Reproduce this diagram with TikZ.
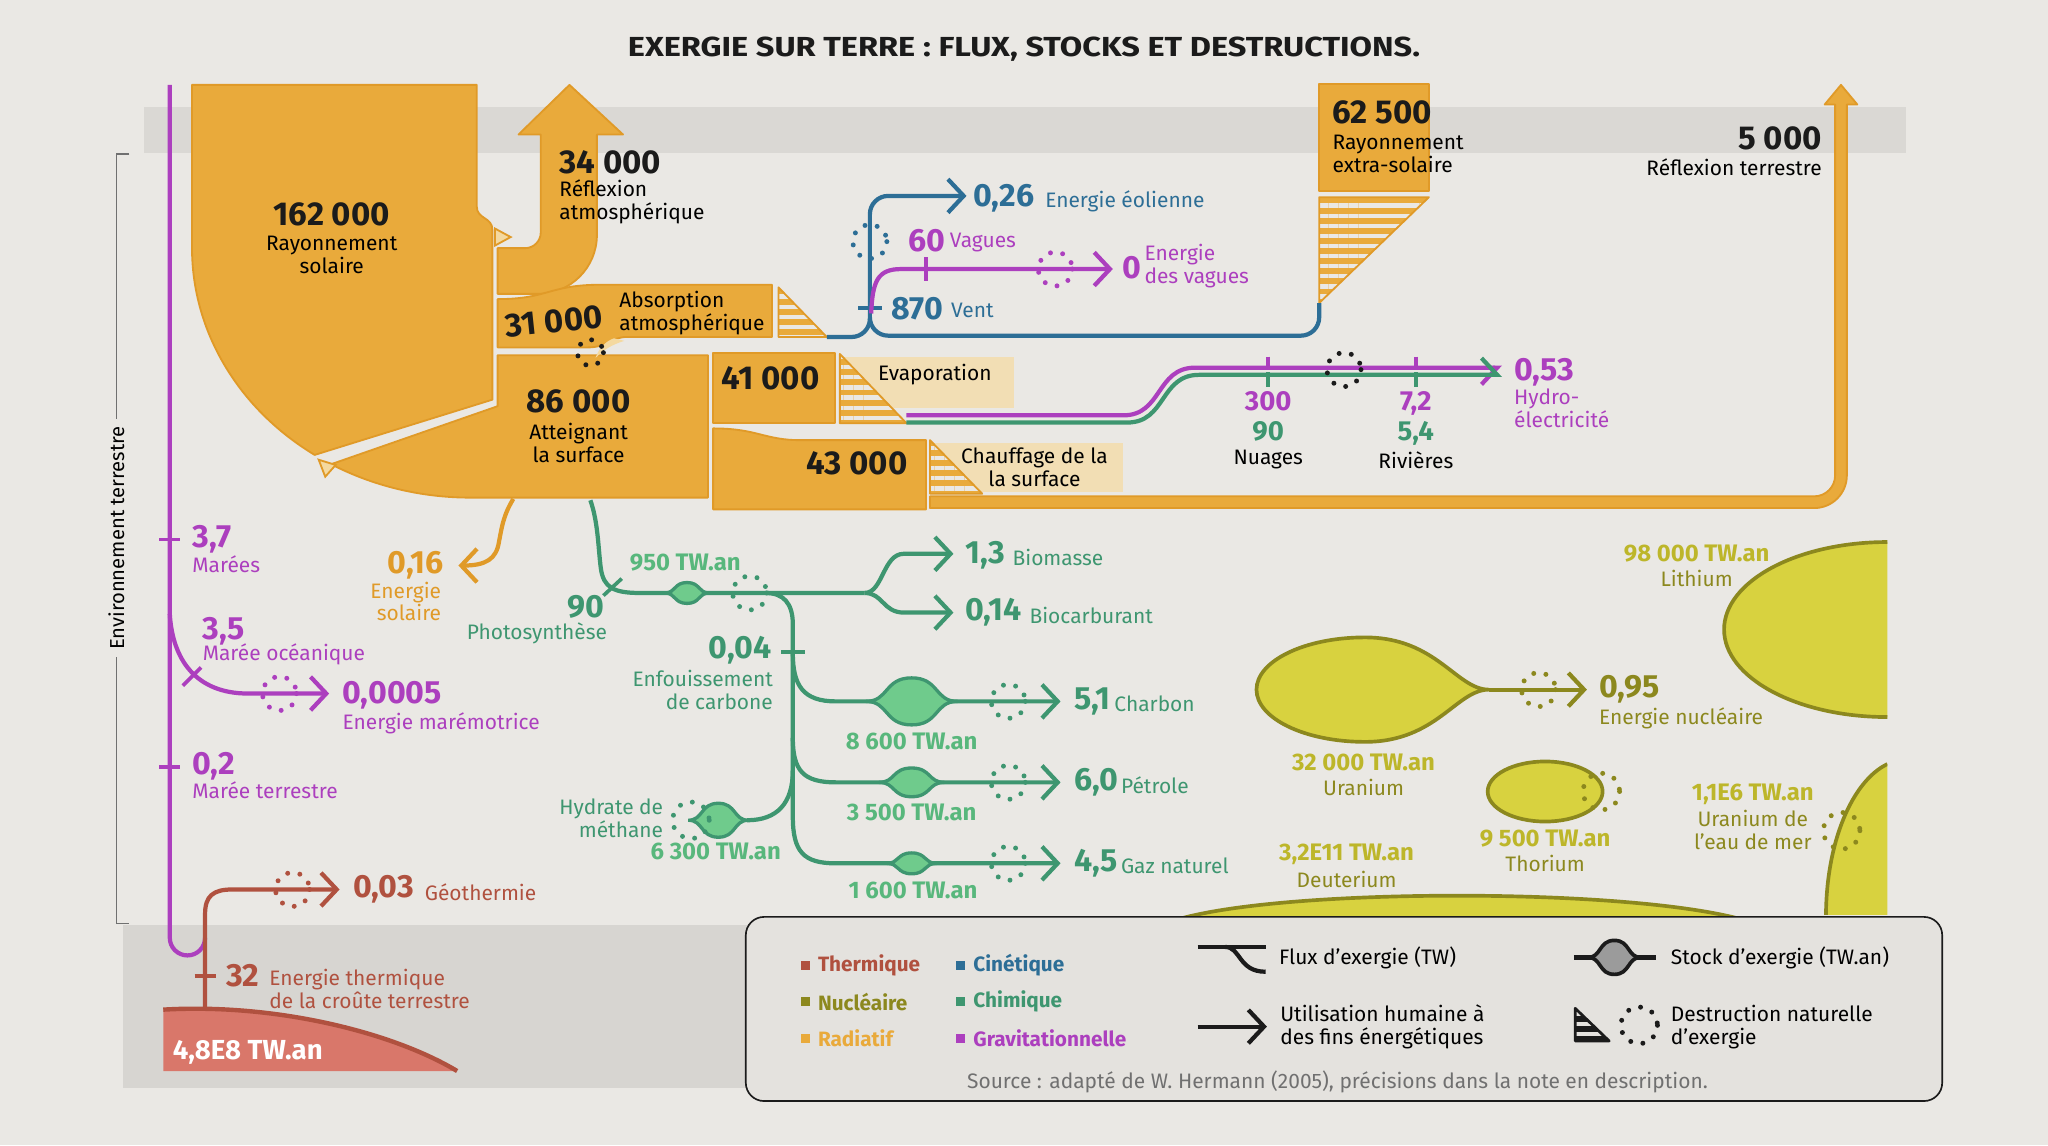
\documentclass[tikz,border=0pt]{standalone}
\usepackage{fontspec}
\setmainfont{Fira Sans}
\usepackage{tikz}
\usetikzlibrary{arrows.meta, patterns.meta}

\definecolor{fond}{HTML}{EAE8E4}
\definecolor{bande}{HTML}{DAD8D4}
\definecolor{bandebas}{HTML}{D7D5D1}
\definecolor{legfond}{HTML}{E4E2DE}
\definecolor{radiatif}{HTML}{E9AA3B}
\definecolor{radbord}{HTML}{E09A28}
\definecolor{radclair}{HTML}{F4D9A0}
\definecolor{beige}{HTML}{F2DEB4}
\definecolor{cinetique}{HTML}{2D6E96}
\definecolor{gravit}{HTML}{AC3FBE}
\definecolor{chimique}{HTML}{3E9670}
\definecolor{chimclair}{HTML}{6FCB8C}
\definecolor{chimstock}{HTML}{58B77C}
\definecolor{nucleaire}{HTML}{8C881E}
\definecolor{nucclair}{HTML}{D8D23F}
\definecolor{nucstock}{HTML}{BDB62A}
\definecolor{thermique}{HTML}{B0513F}
\definecolor{thermclair}{HTML}{D9776A}
\definecolor{encre}{HTML}{1B1B1B}
\definecolor{gris}{HTML}{707070}

% lentille de stock : style, cx, cy, demi-largeur, demi-hauteur
\newcommand{\lentille}[5]{\filldraw[#1] (#2-#4,#3) .. controls (#2-0.5*#4,#3) and (#2-0.6*#4,#3-#5) .. (#2,#3-#5)
  .. controls (#2+0.6*#4,#3-#5) and (#2+0.5*#4,#3) .. (#2+#4,#3)
  .. controls (#2+0.5*#4,#3) and (#2+0.6*#4,#3+#5) .. (#2,#3+#5)
  .. controls (#2-0.6*#4,#3+#5) and (#2-0.5*#4,#3) .. cycle;}

\tikzset{
  ray/.style={fill=radiatif, draw=radbord, line width=1pt, line join=round},
  hachure/.style={preaction={fill=radiatif}, pattern={Lines[angle=0, distance=5.5pt, line width=2.3pt]}, pattern color=fond, draw=radbord, line width=1pt, line join=round},
  flux/.style={line width=2.3pt},
  fleche/.style={-{Straight Barb[length=3mm, width=6.4mm]}},
  perte/.style={line width=2.7pt, line cap=round, dash pattern=on 0pt off 6.8pt},
  coche/.style={line width=2pt},
  titre/.style={font=\fontsize{15}{16}\selectfont\bfseries, text=encre, inner sep=0pt},
  grand/.style={font=\fontsize{18}{19}\selectfont\bfseries, text=encre, inner sep=0pt},
  valeur/.style={font=\fontsize{17.5}{18}\selectfont\bfseries, inner sep=0pt},
  pile/.style={font=\fontsize{15}{16}\selectfont\bfseries, inner sep=0pt, text height=10.5pt, text depth=2pt},
  etiq/.style={font=\fontsize{11.4}{12.5}\selectfont, inner sep=0pt, align=left},
  stockval/.style={font=\fontsize{13}{14}\selectfont\bfseries, inner sep=0pt},
  legende/.style={font=\fontsize{11.3}{12}\selectfont\bfseries, inner sep=0pt, anchor=west},
}

\begin{document}
\begin{tikzpicture}[x=0.025cm, y=-0.025cm]
  % fond et bandes
  \useasboundingbox (0,0) rectangle (1568,876.7);
  \fill[fond] (0,0) rectangle (1568,876.7);
  \fill[bande] (110,82) rectangle (1459,117);
  \fill[bandebas] (94,708) rectangle (1459,833);

  % titre
  \node[titre, xscale=1.18] (titre) at (784,38) {EXERGIE SUR TERRE : FLUX, STOCKS ET DESTRUCTIONS.};

  % crochet environnement terrestre
  \draw[gris, line width=0.8pt] (99,118) -- (89,118) -- (89,707) -- (99,707);
  \node[etiq, font=\fontsize{11}{12}\selectfont, rotate=90, fill=fond, inner sep=4pt] (envt) at (89,412) {Environnement terrestre};

  % rayonnement solaire
  \draw[ray] (147,65) -- (365,65) -- (365,158) .. controls (365,168) and (377,166) .. (377,176) -- (377,306) -- (240.9,348.3) arc[start angle=124, end angle=180, x radius=213, y radius=191] -- cycle;
  % atteignant la surface
  \draw[ray] (381,272) -- (542,272) -- (542,381) -- (360,381) arc[start angle=90, end angle=120, x radius=213, y radius=191] -- (381,311) -- cycle;
  % reflexion atmospherique
  \draw[ray] (381,190) -- (402,190) arc[start angle=90, end angle=0, radius=12] -- (414,103) -- (397,103) -- (436,65) -- (477,103) -- (457,103) -- (457,180) arc[start angle=0, end angle=90, radius=45] -- (381,225) -- cycle;
  % absorption atmospherique
  \draw[ray] (381,229) .. controls (420,229) and (420,218) .. (460,218) -- (591,218) -- (591,258) -- (480,258) .. controls (468,258) and (465,266) .. (450,266) -- (381,266) -- cycle;
  \fill[radclair] (470,259) .. controls (462,262) and (458,268) .. (456,274) .. controls (462,268) and (468,264) .. (478,261) -- cycle;
  \draw[hachure] (596,220) -- (596,258) -- (633,258) -- cycle;
  % petits triangles de separation
  \filldraw[fill=radclair, draw=radbord, line width=1pt] (379,175) -- (379,188) -- (391,181.5) -- cycle;
  \filldraw[fill=radclair, draw=radbord, line width=1pt] (244,352) -- (257,356) -- (249,365) -- cycle;

  % evaporation
  \draw[ray] (546,270) rectangle (639,324);
  \fill[beige] (642,273) rectangle (776,312);
  \draw[hachure] (643,271) -- (643,324) -- (694,324) -- cycle;
  % chauffage de la surface
  \draw[ray] (546,328) .. controls (580,328) and (585,337) .. (613,337) -- (709,337) -- (709,390) -- (546,390) -- cycle;
  \fill[beige] (711,339) rectangle (860,377);
  \draw[hachure] (712,337) -- (712,378) -- (752,378) -- cycle;
  % reflexion terrestre
  \draw[ray] (712,380) -- (1389,380) arc[start angle=90, end angle=0, radius=16] -- (1405,80) -- (1397,80) -- (1409.5,65) -- (1422,80) -- (1414,80) -- (1414,364) arc[start angle=0, end angle=90, radius=25] -- (712,389) -- cycle;

  % rayonnement extra-solaire
  \draw[ray] (1010,64) rectangle (1094,146);
  \draw[hachure] (1010,151) -- (1094,151) -- (1010,232) -- cycle;

  % vent (cinetique)
  \draw[flux, cinetique, fleche] (1010,232) -- (1010,243) arc[start angle=0, end angle=90, radius=14] -- (680,257) arc[start angle=90, end angle=180, radius=14] -- (666,164) arc[start angle=180, end angle=270, radius=14] -- (740,150);
  \draw[flux, cinetique] (633,258) -- (652,258) arc[start angle=90, end angle=0, radius=14];
  \draw[coche, cinetique] (657,236) -- (675,236);
  \draw[perte, cinetique] (666,185) circle (13);

  % vagues
  \draw[flux, gravit, fleche] (667,240) .. controls (668,215) and (672,206) .. (690,206) -- (852,206);
  \draw[coche, gravit] (709,197) -- (709,215);
  \draw[perte, gravit] (808,206) circle (13);

  % cycle de l'eau
  \draw[flux, gravit, -{Straight Barb[length=3mm, width=6.4mm, right]}] (694,318) -- (860,318) .. controls (890,318) and (885,281.5) .. (915,281.5) -- (1150,281.5);
  \draw[flux, chimique, -{Straight Barb[length=3mm, width=6.4mm, left]}] (694,323.5) -- (863,323.5) .. controls (893,323.5) and (888,287) .. (918,287) -- (1150,287);
  \draw[coche, gravit] (971,273) -- (971,283) (1084,273) -- (1084,283);
  \draw[coche, chimique] (971,285) -- (971,296) (1084,285) -- (1084,296);
  \draw[perte, encre] (1029,283) circle (13);
  \draw[perte, encre] (452,270) circle (10);

  % maree (gravitationnel)
  \draw[flux, gravit] (130,65) -- (130,718) arc[start angle=180, end angle=0, radius=13.5];
  \draw[coche, gravit] (122,413) -- (138,413) (122,587) -- (138,587);
  \draw[flux, gravit, fleche] (130,470) .. controls (132,505) and (150,531) .. (190,531) -- (252,531);
  \draw[coche, gravit] (140,525) -- (154,511);
  \draw[perte, gravit] (214,531) circle (13);

  % croute terrestre (thermique)
  \fill[thermclair] (125,773) .. controls (210,768) and (300,790) .. (350,820) -- (125,820) -- cycle;
  \draw[thermique, line width=2.4pt] (125,773) .. controls (210,768) and (300,790) .. (350,820);
  \draw[flux, thermique, fleche] (157,773) -- (157,700) .. controls (157,686) and (163,681) .. (178,681) -- (260,681);
  \draw[coche, thermique] (149,747) -- (165,747);
  \draw[perte, thermique] (224,681) circle (13);

  % energie solaire directe
  \draw[flux, radbord, fleche] (393,382) .. controls (385,395) and (384,405) .. (382,415) .. controls (380,428) and (372,433) .. (351,433);

  % photosynthese (chimique)
  \draw[flux, chimique] (452,383) .. controls (458,400) and (458,420) .. (460,435) .. controls (462,450) and (470,454) .. (490,454) -- (662,454);
  \draw[coche, chimique] (462,456) -- (476,443);
  \draw[flux, chimique, fleche] (662,454) .. controls (676,454) and (676,424) .. (692,424) -- (730,424);
  \draw[flux, chimique, fleche] (662,454) .. controls (676,454) and (676,469) .. (692,469) -- (730,469);
  \lentille{fill=chimclair, draw=chimique, line width=1.8pt}{526}{454}{17}{8}
  \draw[perte, chimique] (574,454) circle (13);
  % enfouissement et fossiles
  \draw[flux, chimique, fleche] (586,454) .. controls (600,454) and (607,462) .. (607,478) -- (607,625) .. controls (607,652) and (615,661) .. (640,661) -- (812,661);
  \draw[flux, chimique, fleche] (607,500) .. controls (607,525) and (615,537) .. (640,537) -- (812,537);
  \draw[flux, chimique, fleche] (607,565) .. controls (607,590) and (615,599) .. (640,599) -- (812,599);
  \draw[flux, chimique] (607,590) .. controls (607,615) and (595,628) .. (572,628);
  \draw[coche, chimique] (598,499) -- (616,499);
  \lentille{fill=chimclair, draw=chimique, line width=1.8pt}{698}{537}{35}{18}
  \lentille{fill=chimclair, draw=chimique, line width=1.8pt}{698}{599}{25}{11}
  \lentille{fill=chimclair, draw=chimique, line width=1.8pt}{698}{661}{19}{8}
  \lentille{fill=chimclair, draw=chimique, line width=1.8pt}{550}{628}{23}{13}
  \draw[perte, chimique] (772,537) circle (13) (772,599) circle (13) (772,661) circle (13) (529,628) circle (14);

  % stocks nucleaires
  \begin{scope}
    \clip (1300,400) rectangle (1445,700);
    \filldraw[fill=nucclair, draw=nucleaire, line width=2pt] (1445,482) ellipse (125 and 67);
    \fill[nucclair] (1445,585) .. controls (1418,598) and (1398,645) .. (1398,702) -- (1445,702) -- cycle;
    \draw[nucleaire, line width=2pt] (1445,585) .. controls (1418,598) and (1398,645) .. (1398,702);
  \end{scope}
  \filldraw[fill=nucclair, draw=nucleaire, line width=2pt] (1140,528) .. controls (1115,528) and (1100,488) .. (1045,488) .. controls (999,488) and (962,506) .. (962,528) .. controls (962,550) and (999,568) .. (1045,568) .. controls (1100,568) and (1115,528) .. cycle;
  \draw[flux, nucleaire, fleche] (1140,528) -- (1215,528);
  \draw[perte, nucleaire] (1178,528) circle (13);
  \filldraw[fill=nucclair, draw=nucleaire, line width=2pt] (1183,606) ellipse (44 and 23);
  \draw[perte, nucleaire] (1226,606) circle (14);
  \draw[perte, nucleaire] (1410,636) circle (14);
  \fill[nucclair] (905,703) .. controls (990,680) and (1240,680) .. (1330,703) -- cycle;
  \draw[nucleaire, line width=2pt] (905,703) .. controls (990,680) and (1240,680) .. (1330,703);

  % legende
  \filldraw[fill=legfond, draw=encre, line width=0.9pt, rounded corners=3.5mm] (571,702) rectangle (1487,843);
  \fill[thermique] (613,735.5) rectangle (620,742.5);
  \fill[nucleaire] (613,763.5) rectangle (620,770.5);
  \fill[radiatif] (613,791.5) rectangle (620,798.5);
  \fill[cinetique] (732,735.5) rectangle (739,742.5);
  \fill[chimique] (732,763.5) rectangle (739,770.5);
  \fill[gravit] (732,791.5) rectangle (739,798.5);
  \node[legende, text=thermique] (lthe) at (626,739) {Thermique};
  \node[legende, text=nucleaire] (lnuc) at (626,767) {Nucléaire};
  \node[legende, text=radiatif] (lrad) at (626,795) {Radiatif};
  \node[legende, text=cinetique] (lcin) at (745,739) {Cinétique};
  \node[legende, text=chimique] (lchi) at (745,767) {Chimique};
  \node[legende, text=gravit] (lgra) at (745,795) {Gravitationnelle};
  \draw[flux, encre] (917,725) -- (969,725);
  \draw[flux, encre] (938,725) .. controls (950,725) and (948,744) .. (969,744);
  \draw[flux, encre, fleche] (917,786) -- (970,786);
  \draw[flux, encre] (1205,733) -- (1268,733);
  \lentille{fill=gris!70, draw=encre, line width=2pt}{1236}{733}{20}{13}
  \draw[preaction={fill=encre}, pattern={Lines[angle=0, distance=5.5pt, line width=2.2pt]}, pattern color=legfond, draw=encre, line width=1.5pt, line join=round] (1206,772) -- (1206,797) -- (1232,797) -- cycle;
  \draw[perte, encre] (1255,785) circle (14);
  \node[etiq, anchor=west] (lflux) at (979,733) {Flux d’exergie (TW)};
  \node[etiq, anchor=west] (lutil) at (980,786) {Utilisation humaine à\\des fins énergétiques};
  \node[etiq, anchor=west] (lstock) at (1279,733) {Stock d’exergie (TW.an)};
  \node[etiq, anchor=west] (ldest) at (1279,786) {Destruction naturelle\\d’exergie};
  \node[etiq, text=gris] (lsource) at (1024,828) {Source : adapté de W. Hermann (2005), précisions dans la note en description.};

  % textes radiatifs
  \node[grand] (n162) at (254,164) {162 000};
  \node[etiq, align=center] (l162) at (254,195) {Rayonnement\\solaire};
  \node[grand, anchor=west] (n34) at (428,124) {34 000};
  \node[etiq, anchor=west] (l34) at (428,154.5) {Réflexion\\atmosphérique};
  \node[grand, rotate=6] (n31) at (424,246) {31 000};
  \node[etiq, anchor=west] (l31) at (474,239.5) {Absorption\\atmosphérique};
  \node[grand] (n86) at (443,307) {86 000};
  \node[etiq, align=center] (l86) at (443,339.5) {Atteignant\\la surface};
  \node[grand] (n41) at (590,290) {41 000};
  \node[etiq, anchor=west] (levap) at (672,287) {Evaporation};
  \node[grand] (n43) at (656,355) {43 000};
  \node[etiq, align=center] (lchauf) at (792,357.5) {Chauffage de la\\la surface};
  \node[grand, anchor=west] (n625) at (1020,86) {62 500};
  \node[etiq, anchor=west] (l625) at (1020,117.5) {Rayonnement\\extra-solaire};
  \node[grand, anchor=east] (n5000) at (1395,106) {5 000};
  \node[etiq, anchor=east] (l5000) at (1395,128) {Réflexion terrestre};
  \node[valeur, text=radbord, anchor=east] (v016) at (340,433) {0,16};
  \node[etiq, text=radbord, align=right, anchor=east] (l016) at (338,460.5) {Energie\\solaire};

  % textes cinetiques et gravitationnels
  \node[valeur, text=cinetique, anchor=west] (v026) at (745,152) {0,26};
  \node[etiq, text=cinetique, anchor=west] (l026) at (800,154) {Energie éolienne};
  \node[valeur, text=cinetique, anchor=west] (v870) at (682,236) {870};
  \node[etiq, text=cinetique, anchor=west] (l870) at (728,238) {Vent};
  \node[valeur, text=gravit, anchor=west] (v60) at (695,184) {60};
  \node[etiq, text=gravit, anchor=west] (l60) at (727,186) {Vagues};
  \node[valeur, text=gravit, anchor=west] (v0) at (859,205) {0};
  \node[etiq, text=gravit, anchor=west] (l0) at (876,204) {Energie\\des vagues};
  \node[valeur, text=gravit, anchor=west] (v053) at (1159,285) {0,53};
  \node[etiq, text=gravit, anchor=west] (l053) at (1159,312.5) {Hydro-\\électricité};
  \node[pile, text=gravit] (v300) at (971,308) {300};
  \node[pile, text=chimique] (v90n) at (971,331) {90};
  \node[etiq] (lnuages) at (971,352) {Nuages};
  \node[pile, text=gravit] (v72) at (1084,308) {7,2};
  \node[pile, text=chimique] (v54) at (1084,331) {5,4};
  \node[etiq] (lriv) at (1084,352) {Rivières};
  \node[valeur, text=gravit, anchor=west] (v37) at (147,413) {3,7};
  \node[etiq, text=gravit, anchor=west] (l37) at (147,432) {Marées};
  \node[valeur, text=gravit, anchor=west] (v35) at (155,483) {3,5};
  \node[etiq, text=gravit, anchor=west] (l35) at (155,501) {Marée océanique};
  \node[valeur, text=gravit, anchor=west] (v0005) at (262,532) {0,0005};
  \node[etiq, text=gravit, anchor=west] (l0005) at (262,554) {Energie marémotrice};
  \node[valeur, text=gravit, anchor=west] (v02) at (147,587) {0,2};
  \node[etiq, text=gravit, anchor=west] (l02) at (147,605) {Marée terrestre};

  % textes thermiques
  \node[valeur, text=thermique, anchor=west] (v003) at (270,681) {0,03};
  \node[etiq, text=thermique, anchor=west] (l003) at (325,683) {Géothermie};
  \node[valeur, text=thermique, anchor=west] (v32) at (173,747) {32};
  \node[etiq, text=thermique, anchor=west] (l32) at (206,757) {Energie thermique\\de la croûte terrestre};
  \node[stockval, font=\fontsize{15}{16}\selectfont\bfseries, text=white, anchor=west] (s48) at (132,806) {4,8E8 TW.an};

  % textes chimiques
  \node[stockval, text=chimstock, anchor=west] (s950) at (482,431) {950 TW.an};
  \node[valeur, text=chimique, anchor=east] (v90p) at (463,465) {90};
  \node[etiq, text=chimique, anchor=east] (l90p) at (465,485) {Photosynthèse};
  \node[valeur, text=chimique, anchor=west] (v13) at (739,425) {1,3};
  \node[etiq, text=chimique, anchor=west] (l13) at (775,427) {Biomasse};
  \node[valeur, text=chimique, anchor=west] (v014) at (739,469) {0,14};
  \node[etiq, text=chimique, anchor=west] (l014) at (788,471) {Biocarburant};
  \node[valeur, text=chimique, anchor=east] (v004) at (591,498) {0,04};
  \node[etiq, text=chimique, align=right, anchor=east] (l004) at (592,528) {Enfouissement\\de carbone};
  \node[valeur, text=chimique, anchor=west] (v51) at (822,537) {5,1};
  \node[etiq, text=chimique, anchor=west] (l51) at (853,539) {Charbon};
  \node[stockval, text=chimstock] (s86) at (698,568) {8 600 TW.an};
  \node[valeur, text=chimique, anchor=west] (v60p) at (822,599) {6,0};
  \node[etiq, text=chimique, anchor=west] (l60p) at (858,601) {Pétrole};
  \node[stockval, text=chimstock] (s35) at (698,622) {3 500 TW.an};
  \node[valeur, text=chimique, anchor=west] (v45) at (822,661) {4,5};
  \node[etiq, text=chimique, anchor=west] (l45) at (858,663) {Gaz naturel};
  \node[stockval, text=chimstock] (s16) at (699,682) {1 600 TW.an};
  \node[etiq, text=chimique, align=right, anchor=east] (lhyd) at (508,626.5) {Hydrate de\\méthane};
  \node[stockval, text=chimstock] (s63) at (548,652) {6 300 TW.an};

  % textes nucleaires
  \node[stockval, text=nucstock] (s98) at (1299,424) {98 000 TW.an};
  \node[etiq, text=nucleaire] (llith) at (1299,443) {Lithium};
  \node[valeur, text=nucleaire, anchor=west] (v095) at (1224,528) {0,95};
  \node[etiq, text=nucleaire, anchor=west] (l095) at (1224,550) {Energie nucléaire};
  \node[stockval, text=nucstock] (s32) at (1044,584) {32 000 TW.an};
  \node[etiq, text=nucleaire] (lura) at (1044,603) {Uranium};
  \node[stockval, text=nucstock] (s95) at (1183,642) {9 500 TW.an};
  \node[etiq, text=nucleaire] (ltho) at (1183,661) {Thorium};
  \node[stockval, text=nucstock] (s11) at (1342,608) {1,1E6 TW.an};
  \node[etiq, text=nucleaire, align=center] (lmer) at (1342,635.5) {Uranium de\\l’eau de mer};
  \node[stockval, text=nucstock] (s32e) at (1031,654) {3,2E11 TW.an};
  \node[etiq, text=nucleaire] (ldeut) at (1031,673) {Deuterium};
\end{tikzpicture}
\end{document}
